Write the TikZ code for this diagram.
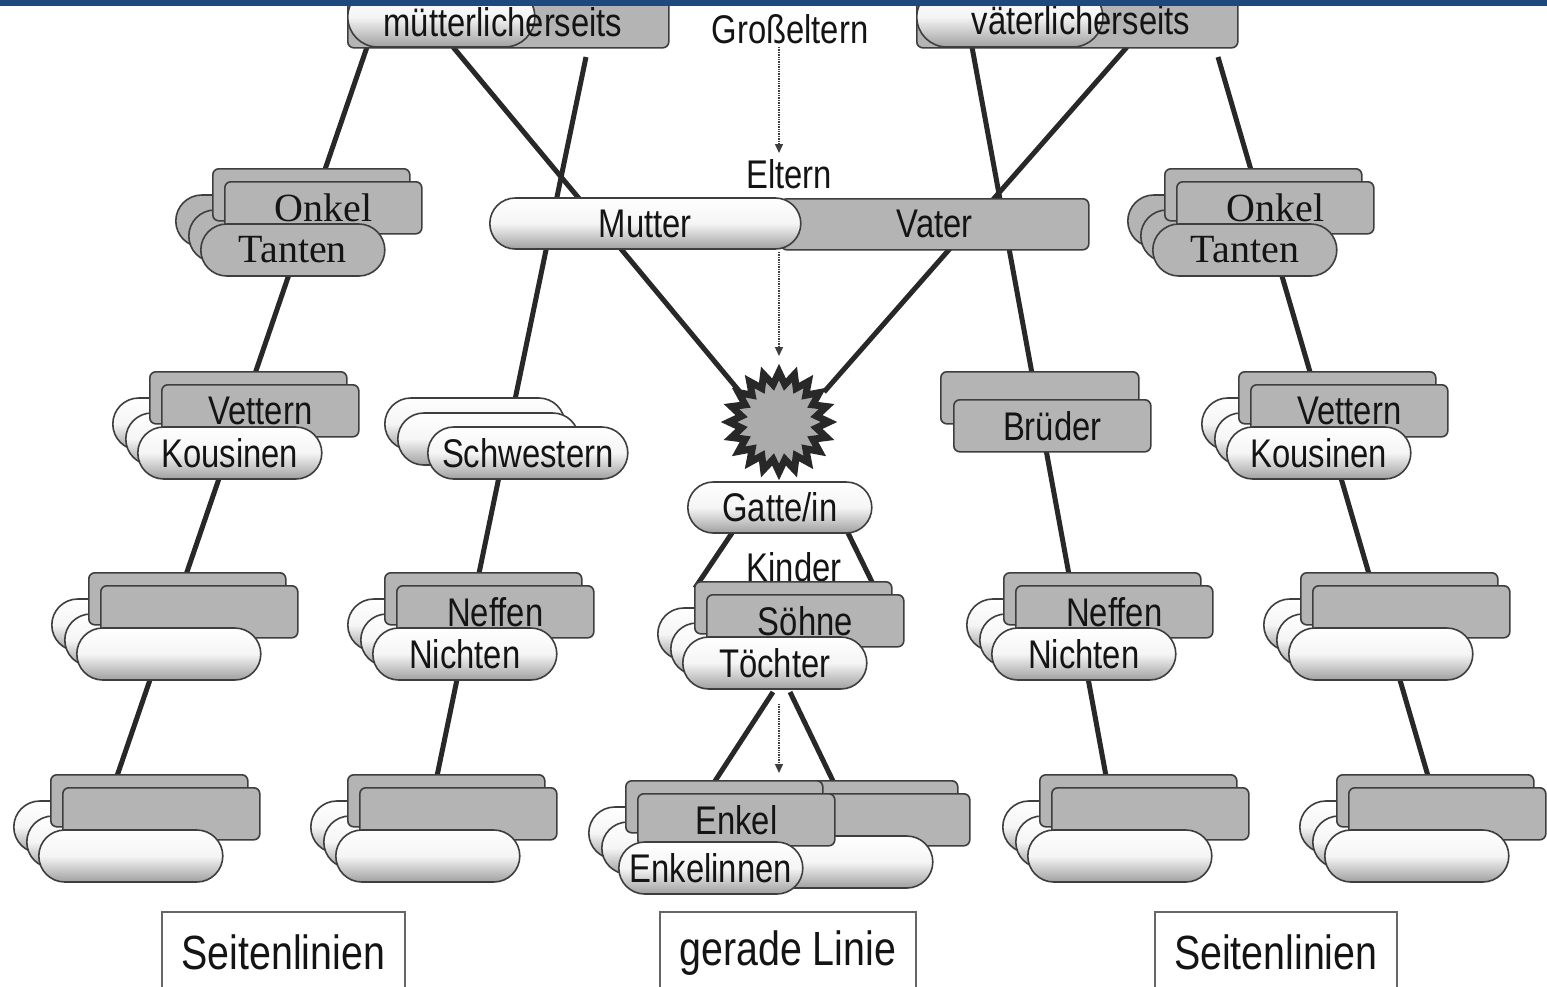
\documentclass[tikz,border=0pt]{standalone}
\usepackage{fontspec}
\setmainfont{Liberation Sans}[FakeStretch=0.82]
\newfontfamily\serifface{Liberation Serif}
\usetikzlibrary{shapes.misc,shapes.geometric,arrows.meta}
\definecolor{boxgray}{RGB}{180,180,180}
\definecolor{edgec}{RGB}{62,62,62}
\definecolor{linec}{RGB}{40,40,40}
\definecolor{pillbot}{RGB}{160,160,160}
\definecolor{band}{RGB}{31,73,125}
\definecolor{txt}{RGB}{20,20,20}
\tikzset{
  pill/.style={rounded rectangle, draw=edgec, line width=1.6pt, minimum width=184pt, minimum height=52pt, inner sep=0pt, text=txt, font=\fontsize{40}{44}\selectfont, anchor=west},
  pillW/.style={pill, top color=white, bottom color=pillbot, middle color=white!96!black},
  pillG/.style={pill, fill=boxgray},
  boxR/.style={rectangle, rounded corners=6pt, draw=edgec, line width=1.6pt, fill=boxgray, minimum width=197pt, minimum height=52pt, inner sep=0pt, text=txt, font=\fontsize{40}{44}\selectfont, anchor=north west},
  conn/.style={draw=linec, line width=5pt},
  darrow/.style={draw=edgec, densely dotted, line width=1.4pt, -{Triangle[length=9pt,width=8pt]}},
  lbl/.style={text=txt, font=\fontsize{40}{44}\selectfont, inner sep=0pt},
  footbox/.style={draw=black!60, line width=1.5pt, fill=white, minimum height=82pt, inner sep=0pt, anchor=north west, text=txt, font=\fontsize{48}{52}\selectfont},
}
% #1 name, #2 px, #3 py (top left of front pill), #4 rect text, #5 pill text, #6 pill style
\newcommand{\famstack}[6]{%
  \node[#6] (#1p1) at ({#2-25},{#3-3}) {};
  \node[#6] (#1p2) at ({#2-12},{#3+12}) {};
  \node[boxR] (#1r1) at ({#2+12},{#3-56}) {};
  \node[boxR] (#1r2) at ({#2+24},{#3-43}) {#4};
  \node[#6] (#1p3) at (#2,{#3+26}) {#5};
}
\begin{document}
\begin{tikzpicture}[x=1pt,y=-1pt]
\useasboundingbox (0,0) rectangle (1547,986);
\clip (0,0) rectangle (1547,986);
\fill[white] (0,0) rectangle (1547,986);

% connector end points
\coordinate (gmA) at (367,47);
\coordinate (gmB) at (586,57);
\coordinate (gmC) at (453,47);
\coordinate (gvA) at (972,47);
\coordinate (gvB) at (1218,57);
\coordinate (gvC) at (1127,47);
\coordinate (endA) at (117,776);
\coordinate (endB) at (437,776);
\coordinate (endD) at (1106,776);
\coordinate (endE) at (1428,776);
\coordinate (stL) at (740,392);
\coordinate (stR) at (824,392);
\coordinate (gaL) at (732,533);
\coordinate (gaR) at (848,533);
\coordinate (kiL) at (695,588);
\coordinate (kiR) at (874,586);
\coordinate (toL) at (773,692);
\coordinate (toR) at (790,692);
\coordinate (enL) at (715,781);
\coordinate (enR) at (833,781);

% connectors (behind nodes)
\draw[conn] (gmA) -- (endA);
\draw[conn] (gmB) -- (endB);
\draw[conn] (gmC) -- (stL);
\draw[conn] (gvA) -- (endD);
\draw[conn] (gvB) -- (endE);
\draw[conn] (gvC) -- (stR);
\draw[conn] (gaL) -- (kiL);
\draw[conn] (gaR) -- (kiR);
\draw[conn] (toL) -- (enL);
\draw[conn] (toR) -- (enR);

% grandparents
\node[boxR, minimum width=321pt, minimum height=60pt] (mgR) at (347,-13) {};
\node[pillW, minimum width=187pt, minimum height=60pt] (mgP) at (347,17) {};
\node[lbl] (mgT) at (503,22) {mütterlicherseits};
\node[boxR, minimum width=321pt, minimum height=60pt] (vgR) at (916,-13) {};
\node[pillW, minimum width=186pt, minimum height=60pt] (vgP) at (916,17) {};
\node[lbl] (vgT) at (1081,20) {väterlicherseits};
\node[lbl] (grossT) at (790,29) {Großeltern};
\node[lbl] (elternT) at (789,174) {Eltern};
\coordinate (arA1) at (779,47);
\coordinate (arA2) at (779,153);
\draw[darrow] (arA1) -- (arA2);

% parents
\node[boxR, minimum width=308pt, minimum height=51pt] (vater) at (780,198) {Vater};
\node[pillW, minimum width=311pt, minimum height=51pt] (mutter) at (489,223.5) {Mutter};
\coordinate (arB1) at (779,252);
\coordinate (arB2) at (779,356);
\draw[darrow] (arB1) -- (arB2);

% star
\node[star, star points=20, star point ratio=1.32, minimum size=100pt, inner sep=0pt, draw=linec, line width=7pt, fill=black!33] (star) at (779,422) {};

% uncles / aunts
\famstack{onkL}{200}{224}{\serifface Onkel}{\serifface Tanten}{pillG}
\famstack{onkR}{1152}{224}{\serifface Onkel}{\serifface Tanten}{pillG}

% cousins
\famstack{vetL}{137}{427}{Vettern}{Kousinen}{pillW}
\famstack{vetR}{1226}{427}{Vettern}{Kousinen}{pillW}

% sisters
\node[pillW, minimum width=180pt] (schw1) at (384,424) {};
\node[pillW, minimum width=181pt] (schw2) at (397,439) {};
\node[pillW, minimum width=200pt] (schw3) at (427,453) {Schwestern};

% brothers
\node[boxR, minimum width=198pt] (brud1) at (940,371) {};
\node[boxR, minimum width=197pt] (brud2) at (953,399) {Brüder};

% spouse
\node[pillW, minimum width=184pt, minimum height=51pt] (gatte) at (687,507.5) {Gatte/in};
\node[lbl] (kinderT) at (794,567) {Kinder};

% row 3
\famstack{r3a}{76}{628}{}{}{pillW}
\famstack{r3b}{372}{628}{Neffen}{Nichten}{pillW}
\famstack{kind}{682}{637}{Söhne}{Töchter}{pillW}
\famstack{r3d}{991}{628}{Neffen}{Nichten}{pillW}
\famstack{r3e}{1288}{628}{}{}{pillW}

\coordinate (arC1) at (779,704);
\coordinate (arC2) at (779,773);
\draw[darrow] (arC1) -- (arC2);

% row 4
\famstack{r4a}{38}{830}{}{}{pillW}
\famstack{r4b}{335}{830}{}{}{pillW}
\famstack{r4d}{1027}{830}{}{}{pillW}
\famstack{r4e}{1324}{830}{}{}{pillW}

% grandchildren
\node[pillW] (enk1) at (588,833) {};
\node[pillW] (enk2) at (601,848) {};
\node[boxR] (enkRr1) at (760,780) {};
\node[boxR] (enkLr1) at (625,780) {};
\node[boxR] (enkRr2) at (772,793) {};
\node[pillW] (enkRp) at (748,862) {};
\node[boxR] (enkel) at (637,793) {Enkel};
\node[pillW] (enkelin) at (618,868) {Enkelinnen};

% footer
\node[footbox, minimum width=243pt] (footL) at (161,911) {Seitenlinien};
\node[footbox, minimum width=256pt] (footM) at (659,911) {gerade Linie};
\node[footbox, minimum width=242pt] (footR) at (1154,911) {Seitenlinien};

% top band
\fill[band] (0,0) rectangle (1547,6);
\end{tikzpicture}
\end{document}
